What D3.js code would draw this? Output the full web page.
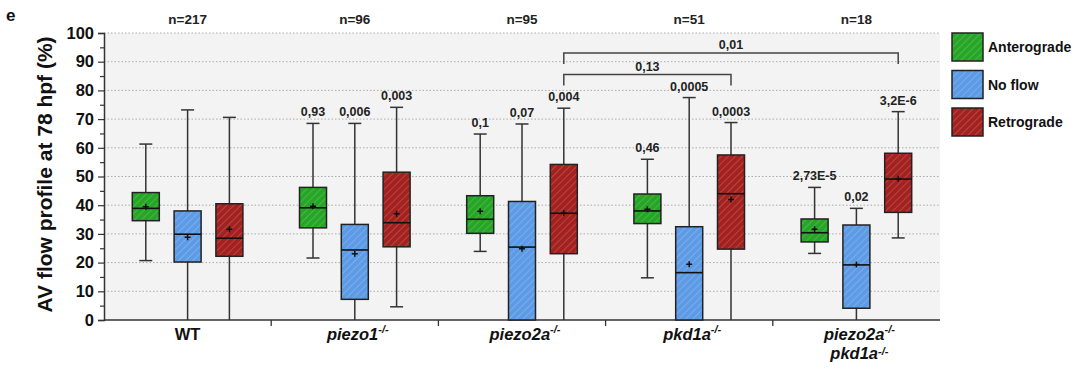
<!DOCTYPE html>
<html>
<head>
<meta charset="utf-8">
<script src="https://cdn.jsdelivr.net/npm/d3@7/dist/d3.min.js"></script>
<style>
  body { margin: 0; background: #fff; }
  svg { font-family: "Liberation Sans", Arial, sans-serif; }
</style>
</head>
<body>
<div id="chart"></div>
<script>

// genotypes along the x axis
var groups = ['WT', 'piezo1', 'piezo2a', 'pkd1a', 'double'];
var groupCounts = ['n=217', 'n=96', 'n=95', 'n=51', 'n=18'];

var flowTypes = ['Anterograde', 'No flow', 'Retrograde'];

// box stats per genotype: [whiskerLow, q1, median, q3, whiskerHigh, mean]
var anterograde = [
	[20.7, 34.6, 38.9, 44.4, 61.3, 39.5],
	[21.6, 32.1, 39.1, 46.2, 68.5, 39.6],
	[23.9, 30.2, 35.1, 43.3, 64.8, 37.9],
	[14.7, 33.6, 38.0, 43.9, 56.0, 38.6],
	[23.2, 27.2, 30.4, 35.2, 46.2, 31.6]
];
var noFlow = [
	[0, 20.2, 29.9, 38.0, 73.2, 28.8],
	[0, 7.2, 24.4, 33.3, 68.5, 23.1],
	[0, 0, 25.4, 41.3, 68.3, 24.8],
	[0, 0, 16.5, 32.5, 77.5, 19.4],
	[0, 4.1, 19.2, 33.1, 38.9, 19.3]
];
var retrograde = [
	[0, 22.2, 28.5, 40.5, 70.6, 31.6],
	[4.6, 25.5, 33.9, 51.5, 74.1, 37.0],
	[0, 23.1, 37.2, 54.2, 73.8, 37.3],
	[0, 24.7, 44.0, 57.5, 68.8, 42.0],
	[28.6, 37.5, 49.1, 58.1, 72.6, 49.2]
];

// p values printed above whiskers (none for WT)
var pAnterograde = ['', '0,93', '0,1', '0,46', '2,73E-5'];
var pNoFlow = ['', '0,006', '0,07', '0,0005', '0,02'];
var pRetrograde = ['', '0,003', '0,004', '0,0003', '3,2E-6'];

// brackets between retrograde boxes: [fromGroup, toGroup, barLevel, label]
var brackets = [
	['piezo2a', 'pkd1a', 85.5, '0,13'],
	['piezo2a', 'double', 93, '0,01']
];

var yTicks = [0, 10, 20, 30, 40, 50, 60, 70, 80, 90, 100];

var fills = ['#26a526', '#5d9be6', '#a3221f'];
var stripes = ['#55bd55', '#86b5ec', '#c05450'];

var width = 1080, height = 373;
var margin = {left: 104, right: 140, top: 33, bottom: 53};

var svg = d3.select('#chart').append('svg')
	.attr('width', width)
	.attr('height', height);

// hatch patterns for the boxes
var defs = svg.append('defs');
fills.forEach(function(c, i) {
	var p = defs.append('pattern')
		.attr('id', 'hatch' + i)
		.attr('patternUnits', 'userSpaceOnUse')
		.attr('width', 5).attr('height', 5)
		.attr('patternTransform', 'rotate(45)');
	p.append('rect').attr('width', 5).attr('height', 5).attr('fill', c);
	p.append('line').attr('x1', 0).attr('y1', 0).attr('x2', 0).attr('y2', 5)
		.attr('stroke', stripes[i]).attr('stroke-width', 1.4);
});

var x = d3.scaleBand()
	.domain(groups)
	.range([margin.left, width - margin.right]);

var y = d3.scaleLinear()
	.domain([0, 100])
	.range([height - margin.bottom, margin.top]);

// offset of each flow type inside a group
var sub = d3.scalePoint()
	.domain(flowTypes)
	.range([-x.bandwidth() * 0.25, x.bandwidth() * 0.25]);

var boxW = 27;
var capW = 13;

// plot background
svg.append('rect')
	.attr('x', margin.left).attr('y', y(100))
	.attr('width', x.range()[1] - margin.left)
	.attr('height', y(0) - y(100))
	.attr('fill', '#f3f3f3');

// dotted grid
svg.append('g').selectAll('line')
	.data(yTicks.filter(function(d) { return d > 0; }))
	.join('line')
	.attr('x1', margin.left).attr('x2', x.range()[1])
	.attr('y1', function(d) { return y(d); })
	.attr('y2', function(d) { return y(d); })
	.attr('stroke', '#aaa')
	.attr('stroke-width', 1)
	.attr('stroke-dasharray', '1.5,2');

// y axis
var yAxis = svg.append('g')
	.attr('transform', 'translate(' + margin.left + ',0)')
	.call(d3.axisLeft(y).tickValues(yTicks).tickSize(6).tickPadding(4));
yAxis.selectAll('text')
	.attr('font-size', 16.5).attr('font-weight', 'bold').attr('fill', '#111');
yAxis.select('.domain').attr('stroke', '#333').attr('stroke-width', 1.5);
yAxis.selectAll('.tick line').attr('stroke', '#333').attr('stroke-width', 1.2);

svg.append('g')
	.attr('transform', 'translate(' + margin.left + ',0)')
	.call(d3.axisLeft(y).tickValues(d3.range(5, 100, 10)).tickSize(4).tickFormat(''))
	.call(function(g) { g.select('.domain').remove(); })
	.selectAll('line').attr('stroke', '#333').attr('stroke-width', 1.2);

// x axis line and separators
var xAxisG = svg.append('g');
xAxisG.append('line')
	.attr('x1', margin.left).attr('x2', x.range()[1])
	.attr('y1', y(0)).attr('y2', y(0))
	.attr('stroke', '#333').attr('stroke-width', 1.5);
xAxisG.selectAll('line.sep')
	.data(groups.slice(1))
	.join('line')
	.attr('class', 'sep')
	.attr('x1', function(d) { return x(d); })
	.attr('x2', function(d) { return x(d); })
	.attr('y1', y(0)).attr('y2', y(0) + 6)
	.attr('stroke', '#333').attr('stroke-width', 1.3);

// boxes
var series = [anterograde, noFlow, retrograde];
var pvals = [pAnterograde, pNoFlow, pRetrograde];

series.forEach(function(data, si) {
	var g = svg.append('g').attr('class', 'series' + si);

	data.forEach(function(s, gi) {
		var cx = x(groups[gi]) + x.bandwidth() / 2 + sub(flowTypes[si]);
		var box = g.append('g');

		// whisker line
		box.append('line')
			.attr('x1', cx).attr('x2', cx)
			.attr('y1', y(s[0])).attr('y2', y(s[4]))
			.attr('stroke', '#333').attr('stroke-width', 1.5);
		[s[0], s[4]].forEach(function(v) {
			if (v <= 0) return;
			box.append('line')
				.attr('x1', cx - capW / 2).attr('x2', cx + capW / 2)
				.attr('y1', y(v)).attr('y2', y(v))
				.attr('stroke', '#333').attr('stroke-width', 1.5);
		});

		box.append('rect')
			.attr('x', cx - boxW / 2).attr('width', boxW)
			.attr('y', y(s[3])).attr('height', y(s[1]) - y(s[3]))
			.attr('fill', 'url(#hatch' + si + ')')
			.attr('stroke', '#222').attr('stroke-width', 1.5);

		box.append('line')
			.attr('x1', cx - boxW / 2).attr('x2', cx + boxW / 2)
			.attr('y1', y(s[2])).attr('y2', y(s[2]))
			.attr('stroke', '#111').attr('stroke-width', 1.6);

		// mean marker
		box.append('path')
			.attr('d', 'M' + (cx - 3) + ',' + y(s[5]) + 'h6M' + cx + ',' + (y(s[5]) - 3) + 'v6')
			.attr('stroke', '#111').attr('stroke-width', 1.5);

		if (pvals[si][gi]) {
			box.append('text')
				.attr('x', cx).attr('y', y(s[4]) - 7)
				.attr('text-anchor', 'middle')
				.attr('font-size', 12.5).attr('font-weight', 'bold').attr('fill', '#222')
				.text(pvals[si][gi]);
		}
	});
});

// comparison brackets
var bracketG = svg.append('g');
brackets.forEach(function(b) {
	var x1 = x(b[0]) + x.bandwidth() / 2 + sub('Retrograde');
	var x2 = x(b[1]) + x.bandwidth() / 2 + sub('Retrograde');
	var yb = y(b[2]);
	bracketG.append('path')
		.attr('d', 'M' + x1 + ',' + (yb + 11) + 'V' + yb + 'H' + x2 + 'V' + (yb + 11))
		.attr('fill', 'none').attr('stroke', '#444').attr('stroke-width', 1.5);
	bracketG.append('text')
		.attr('x', (x1 + x2) / 2).attr('y', yb - 4)
		.attr('text-anchor', 'middle')
		.attr('font-size', 12.5).attr('font-weight', 'bold').attr('fill', '#222')
		.text(b[3]);
});

// n labels on top
svg.append('g').selectAll('text')
	.data(groups)
	.join('text')
	.attr('x', function(d) { return x(d) + x.bandwidth() / 2; })
	.attr('y', 24)
	.attr('text-anchor', 'middle')
	.attr('font-size', 13.5).attr('font-weight', 'bold').attr('fill', '#222')
	.text(function(d, i) { return groupCounts[i]; });

// x labels, mutants in italic with -/- superscript
function genotypeLabel(sel, name, yy, supRise) {
	var t = sel.append('text')
		.attr('y', yy)
		.attr('text-anchor', 'middle')
		.attr('font-size', 16.5).attr('font-weight', 'bold').attr('fill', '#111');
	if (name === 'WT') {
		t.text('WT');
		return t;
	}
	t.append('tspan').attr('font-style', 'italic').text(name);
	t.append('tspan').attr('font-style', 'italic').attr('font-size', 11)
		.attr('dy', -(supRise || 7)).text('-/-');
	return t;
}

var xl = svg.append('g');
groups.forEach(function(gname) {
	var cx = x(gname) + x.bandwidth() / 2;
	if (gname === 'double') {
		genotypeLabel(xl, 'piezo2a', 340).attr('x', cx + 3);
		genotypeLabel(xl, 'pkd1a', 359, 4).attr('x', cx + 3);
	} else {
		genotypeLabel(xl, gname, 340).attr('x', gname === 'WT' ? cx : cx + 3);
	}
});

// y label
svg.append('text')
	.attr('transform', 'translate(52,' + (y(50) - 2) + ') rotate(-90)')
	.attr('text-anchor', 'middle')
	.attr('font-size', 21).attr('font-weight', 'bold').attr('fill', '#111')
	.text('AV flow profile at 78 hpf (%)');

// panel letter
svg.append('text')
	.attr('x', 6).attr('y', 21)
	.attr('font-size', 17).attr('font-weight', 'bold').attr('fill', '#111')
	.text('e');

// legend
var legend = svg.append('g').attr('transform', 'translate(952,33)');
flowTypes.forEach(function(f, i) {
	var row = legend.append('g').attr('transform', 'translate(0,' + (i * 37.5) + ')');
	row.append('rect')
		.attr('width', 31).attr('height', 28)
		.attr('fill', 'url(#hatch' + i + ')')
		.attr('stroke', '#222').attr('stroke-width', 1.5);
	row.append('text')
		.attr('x', 36).attr('y', 19)
		.attr('font-size', 14).attr('font-weight', 'bold').attr('fill', '#111')
		.text(f);
});

</script>
</body>
</html>
